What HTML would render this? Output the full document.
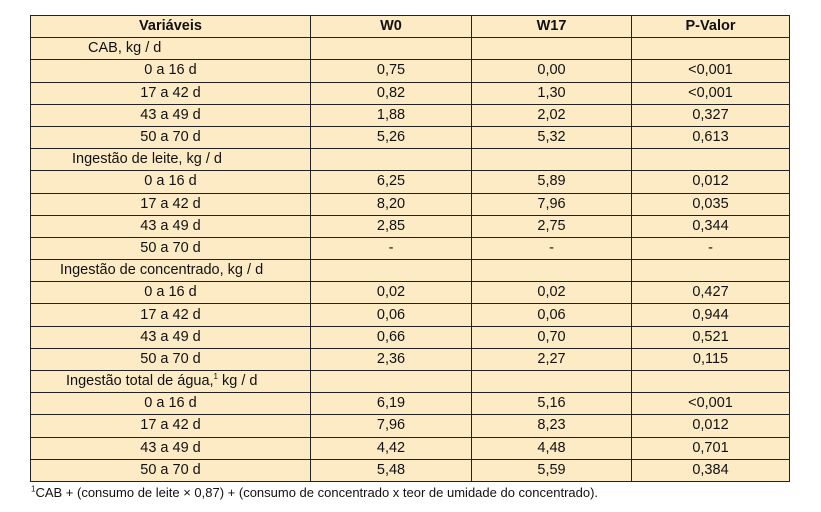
<!DOCTYPE html>
<html><head><meta charset="utf-8"><style>
body{margin:0;width:821px;height:512px;background:#fff;font-family:"Liberation Sans",sans-serif;position:relative;overflow:hidden}
table{position:absolute;left:30px;top:15px;border-collapse:collapse;background:#fdebc6;font-size:14.5px;color:#111}
td,th{border:1px solid #222;height:21.2px;padding:0;text-align:center;line-height:21px}
th{font-weight:bold}
td.c{text-align:left}
.fn{position:absolute;left:31px;top:485px;font-size:13px;color:#111}
sup{font-size:8px;line-height:0}
</style></head><body>
<table>
<colgroup><col style="width:280px"><col style="width:161px"><col style="width:160px"><col style="width:158px"></colgroup>
<tr><th>Variáveis</th><th>W0</th><th>W17</th><th>P-Valor</th></tr>
<tr><td class="c" style="padding-left:57px">CAB, kg / d</td><td></td><td></td><td></td></tr>
<tr><td>0 a 16 d</td><td>0,75</td><td>0,00</td><td>&lt;0,001</td></tr>
<tr><td>17 a 42 d</td><td>0,82</td><td>1,30</td><td>&lt;0,001</td></tr>
<tr><td>43 a 49 d</td><td>1,88</td><td>2,02</td><td>0,327</td></tr>
<tr><td>50 a 70 d</td><td>5,26</td><td>5,32</td><td>0,613</td></tr>
<tr><td class="c" style="padding-left:41px">Ingestão de leite, kg / d</td><td></td><td></td><td></td></tr>
<tr><td>0 a 16 d</td><td>6,25</td><td>5,89</td><td>0,012</td></tr>
<tr><td>17 a 42 d</td><td>8,20</td><td>7,96</td><td>0,035</td></tr>
<tr><td>43 a 49 d</td><td>2,85</td><td>2,75</td><td>0,344</td></tr>
<tr><td>50 a 70 d</td><td>-</td><td>-</td><td>-</td></tr>
<tr><td class="c" style="padding-left:29px">Ingestão de concentrado, kg / d</td><td></td><td></td><td></td></tr>
<tr><td>0 a 16 d</td><td>0,02</td><td>0,02</td><td>0,427</td></tr>
<tr><td>17 a 42 d</td><td>0,06</td><td>0,06</td><td>0,944</td></tr>
<tr><td>43 a 49 d</td><td>0,66</td><td>0,70</td><td>0,521</td></tr>
<tr><td>50 a 70 d</td><td>2,36</td><td>2,27</td><td>0,115</td></tr>
<tr><td class="c" style="padding-left:35px">Ingestão total de água,<sup>1</sup> kg / d</td><td></td><td></td><td></td></tr>
<tr><td>0 a 16 d</td><td>6,19</td><td>5,16</td><td>&lt;0,001</td></tr>
<tr><td>17 a 42 d</td><td>7,96</td><td>8,23</td><td>0,012</td></tr>
<tr><td>43 a 49 d</td><td>4,42</td><td>4,48</td><td>0,701</td></tr>
<tr><td>50 a 70 d</td><td>5,48</td><td>5,59</td><td>0,384</td></tr>
</table>
<div class="fn"><sup>1</sup>CAB + (consumo de leite × 0,87) + (consumo de concentrado x teor de umidade do concentrado).</div>
</body></html>
